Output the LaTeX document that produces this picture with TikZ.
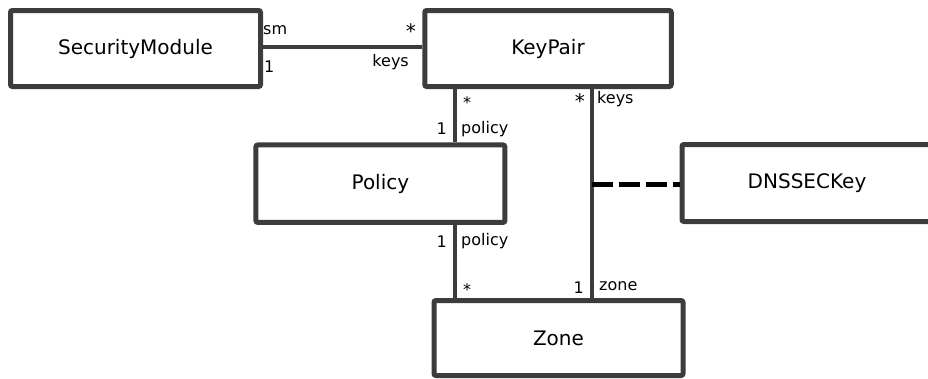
\documentclass[tikz,border=0pt]{standalone}
\usepackage{fontspec}
\setmainfont{DejaVu Sans}
\begin{document}
\begin{tikzpicture}[x=1pt,y=-1pt,
  box/.style={draw=boxgray, line width=5pt, rounded corners=2pt, fill=white, inner sep=0pt,
    font=\fontsize{20}{22}\selectfont},
  conn/.style={draw=boxgray, line width=4.5pt},
  lbl/.style={inner sep=0pt, font=\fontsize{16}{18}\selectfont},
  big/.style={inner sep=0pt, font=\fontsize{20}{22}\selectfont},
  dsh/.style={draw=black, line width=5pt, dash pattern=on 21pt off 6pt}]
\definecolor{boxgray}{HTML}{3C3C3C}
\useasboundingbox (0,0) rectangle (928,378);
\node[box, minimum width=250pt, minimum height=76pt] (sm) at (135.5,48.5) {SecurityModule};
\node[box, minimum width=246.5pt, minimum height=76pt] (kp) at (548,48.5) {KeyPair};
\node[box, minimum width=250pt, minimum height=77pt, text width=228pt, align=center] (dns) at (807,183) {DNSSECKey\hspace*{18pt}};
\node[box, minimum width=249pt, minimum height=77.5pt] (pol) at (380.4,183.7) {Policy};
\node[box, minimum width=249pt, minimum height=75pt] (zone) at (558.5,338) {Zone};
% connectors
\draw[conn] (sm.east |- 0,47) -- (kp.west |- 0,47);
\coordinate (kpa) at (455,86.5);
\coordinate (kpb) at (592,86.5);
\draw[conn] (kpa) -- (kpa |- pol.north);
\draw[conn] (kpa |- pol.south) -- (kpa |- zone.north);
\draw[conn] (kpb) -- (kpb |- zone.north);
\coordinate (mid) at (592,184);
\draw[dsh] (mid) -- (dns.west |- mid);
% labels SM-KP
\node[lbl, anchor=west] (l1) at (263,30) {sm};
\node[lbl, anchor=west] (l2) at (264,67) {1};
\node[big, anchor=east] (l3) at (416,31) {*};
\node[lbl, anchor=east] (l4) at (409,62) {keys};
% KP-Policy
\node[lbl, anchor=west] (l5) at (463,103) {*};
\node[lbl, anchor=east] (l6) at (447,129) {1};
\node[lbl, anchor=west] (l7) at (461,129) {policy};
% KP-Zone keys
\node[big, anchor=east] (l8) at (585,101) {*};
\node[lbl, anchor=west] (l9) at (597,99) {keys};
% Policy-Zone
\node[lbl, anchor=east] (l10) at (447,242) {1};
\node[lbl, anchor=west] (l11) at (461,241) {policy};
\node[lbl, anchor=west] (l12) at (463,290) {*};
\node[lbl, anchor=east] (l13) at (584,288) {1};
\node[lbl, anchor=west] (l14) at (599,286) {zone};
\end{tikzpicture}
\end{document}
